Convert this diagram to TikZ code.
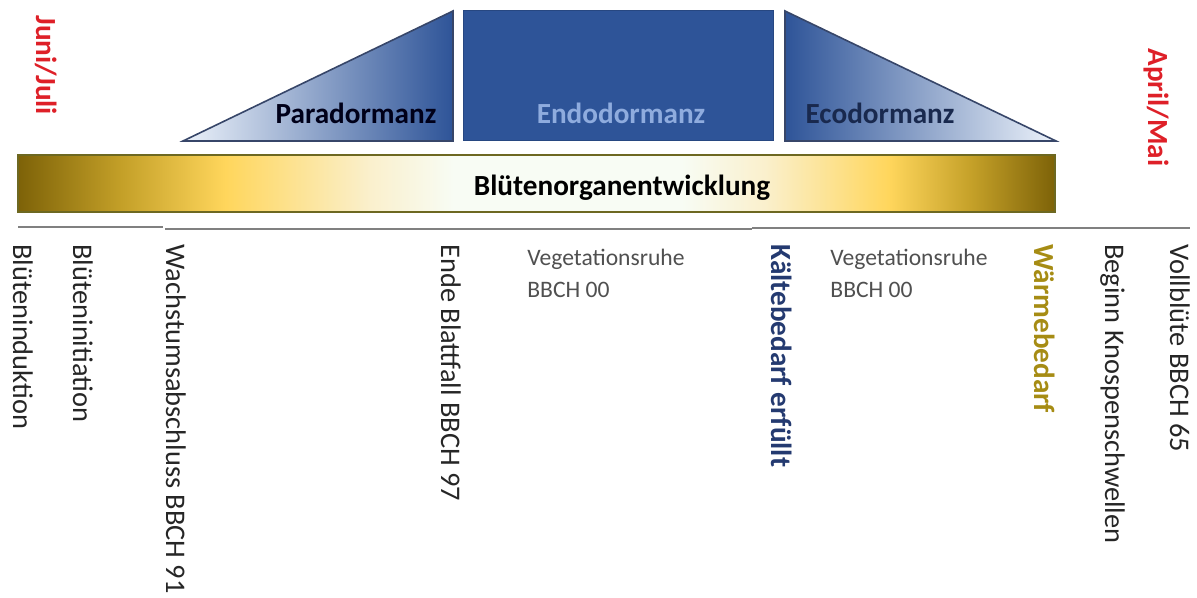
\documentclass[tikz,border=0pt]{standalone}
\usepackage{fontspec}
\setmainfont{Carlito}
\usetikzlibrary{positioning}
\definecolor{golddark}{RGB}{125,98,8}
\definecolor{goldmid}{RGB}{196,160,40}
\definecolor{goldlight}{RGB}{255,214,92}
\definecolor{goldpale}{RGB}{250,240,205}
\definecolor{barwhite}{RGB}{248,252,244}
\definecolor{bluedark}{RGB}{46,84,152}
\definecolor{bluepale}{RGB}{236,242,250}
\definecolor{blueedge}{RGB}{55,70,105}
\definecolor{endotext}{RGB}{143,172,222}
\definecolor{monthred}{RGB}{222,32,40}
\definecolor{coldblue}{RGB}{36,58,112}
\definecolor{warmgold}{RGB}{166,140,20}
\definecolor{linegray}{RGB}{128,128,128}
\definecolor{notegray}{RGB}{80,80,80}
\pgfdeclarehorizontalshading{goldbar}{100bp}{color(0bp)=(golddark); color(25bp)=(golddark); color(30bp)=(goldmid); color(35bp)=(goldlight); color(42bp)=(goldpale); color(46bp)=(barwhite); color(57bp)=(barwhite); color(61bp)=(goldpale); color(67bp)=(goldlight); color(71bp)=(goldmid); color(75bp)=(golddark); color(100bp)=(golddark)}

\begin{document}
\begin{tikzpicture}[x=0.5pt,y=-0.5pt,
  stage/.style={font=\bfseries\fontsize{14.6}{17}\selectfont,inner sep=0,anchor=base},
  event/.style={rotate=-90,anchor=base west,inner sep=0,text=black!85,font=\fontsize{14.2}{17}\selectfont},
  month/.style={rotate=-90,anchor=base west,inner sep=0,text=monthred,font=\bfseries\fontsize{14.6}{17}\selectfont},
  rest/.style={anchor=base west,inner sep=0,text=notegray,font=\fontsize{11.8}{14}\selectfont}]
\useasboundingbox (0,0) rectangle (1197,598);
% dormancy phases
\shadedraw[left color=bluepale,right color=bluedark,draw=blueedge,line width=0.8pt] (183,141) -- (453,11) -- (453,141) -- cycle;
\filldraw[fill=bluedark,draw=bluedark!85!black,line width=0.5pt] (463,11) rectangle (773,141);
\shadedraw[left color=bluedark,right color=bluepale,draw=blueedge,line width=0.8pt] (785,11) -- (785,141) -- (1056,141) -- cycle;
\node[stage,text=black!90!blue] (para) at (356,124) {Paradormanz};
\node[stage,text=endotext] (endo) at (621,124) {Endodormanz};
\node[stage,text=coldblue!70!black] (eco) at (880,124) {Ecodormanz};
% flower organ development
\shade[shading=goldbar] (18,155) rectangle (1055,212);
\draw[draw=olive!70!black,line width=0.6pt] (18,155) rectangle (1055,212);
\node[stage] (bar) at (622,196) {Blütenorganentwicklung};
% time line
\draw[linegray,line width=1.2pt] (18,227) -- (163,227);
\draw[linegray,line width=1.2pt] (165,229) -- (752,229);
\draw[linegray,line width=1.2pt] (752,228) -- (1190,228);
\node[month] (jun) at (36,15) {Juni/Juli};
\node[month] (apr) at (1148,48) {April/Mai};
\node[event] (ind) at (13,244) {Blüteninduktion};
\node[event] (ini) at (73,244) {Blüteninitiation};
\node[event] (wach) at (166,244) {Wachstumsabschluss BBCH 91};
\node[event] (blatt) at (441,244) {Ende Blattfall BBCH 97};
\node[event,text=coldblue,font=\bfseries\fontsize{14.6}{17}\selectfont] (kalt) at (771,244) {Kältebedarf erfüllt};
\node[event,text=warmgold,font=\bfseries\fontsize{14.6}{17}\selectfont] (warm) at (1034,244) {Wärmebedarf};
\node[event] (knosp) at (1105,244) {Beginn Knospenschwellen};
\node[event] (voll) at (1170,244) {Vollblüte BBCH 65};
\node[rest] (veg1) at (527,266) {Vegetationsruhe};
\node[rest] (bb1) at (527,298) {BBCH 00};
\node[rest] (veg2) at (830,266) {Vegetationsruhe};
\node[rest] (bb2) at (830,298) {BBCH 00};
\end{tikzpicture}
\end{document}
